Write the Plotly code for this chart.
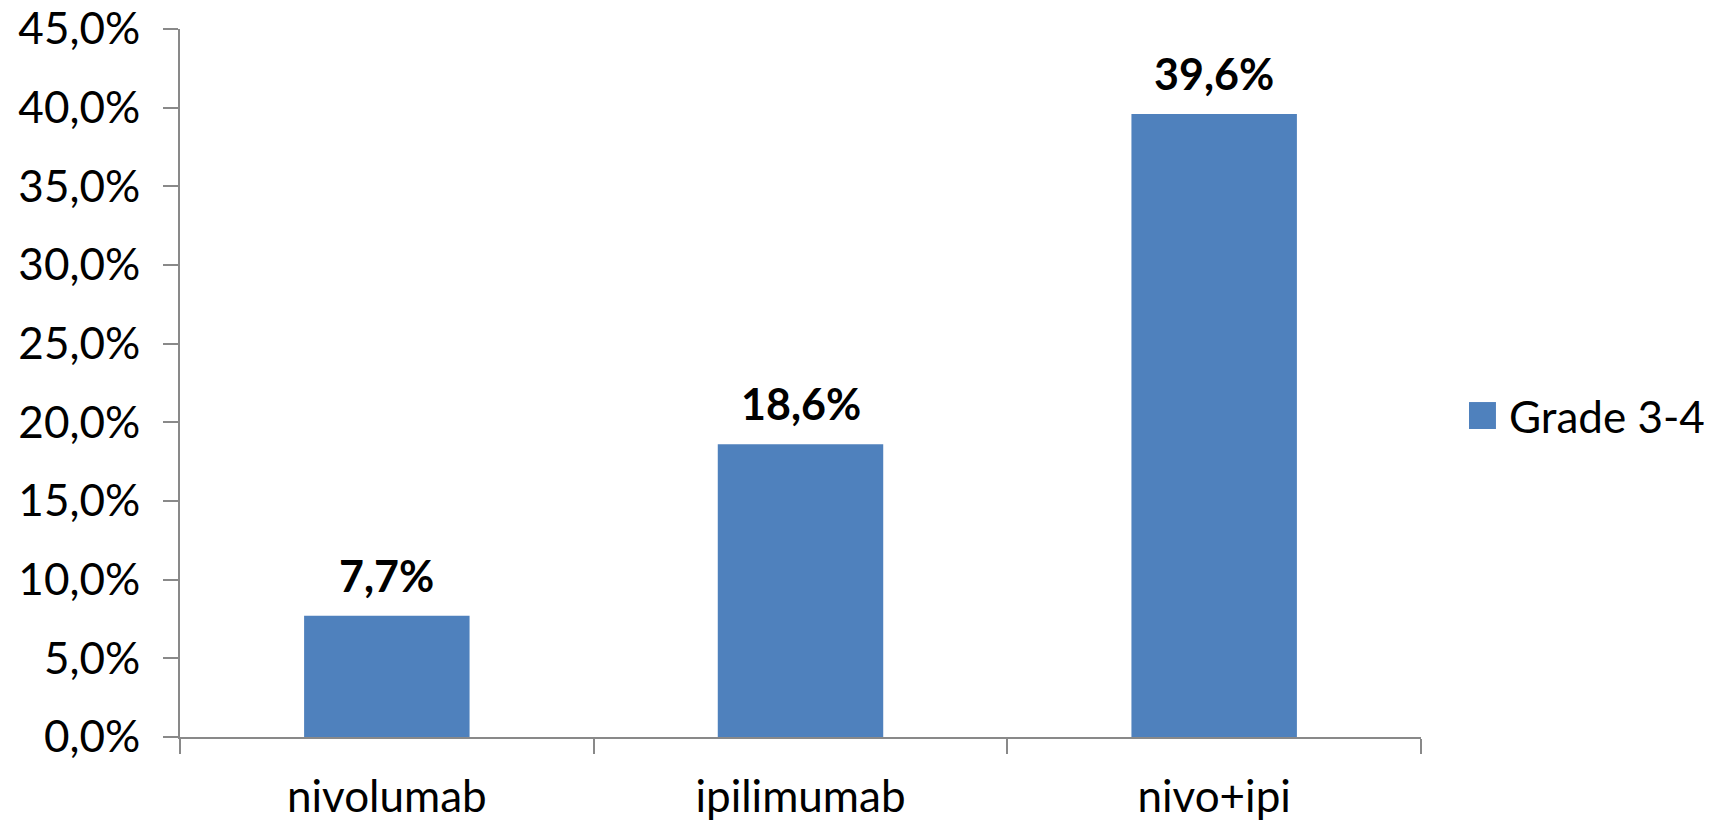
import plotly.graph_objects as go

# Grade 3-4 adverse event rates by treatment arm
categories = ["nivolumab", "ipilimumab", "nivo+ipi"]
grade34_rate = [0.077, 0.186, 0.396]
series_name = "Grade 3-4"

BAR_COLOR = "#4F81BD"
AXIS_COLOR = "#898989"
FONT = "Lato, Carlito, Calibri, sans-serif"

fig = go.Figure()
fig.add_trace(go.Bar(
    x=categories,
    y=grade34_rate,
    name=series_name,
    marker=dict(color=BAR_COLOR, line=dict(width=0)),
    width=0.4,
    showlegend=False,
))

# Bold value labels above each bar
for cat, val in zip(categories, grade34_rate):
    fig.add_annotation(
        x=cat, y=val, xref="x", yref="y",
        text="<b>" + f"{val * 100:.1f}".replace(".", ",") + "%</b>",
        showarrow=False, yanchor="bottom", yshift=13,
        font=dict(family=FONT, size=43, color="#000000"),
    )

# Legend drawn as a swatch plus label to the right of the plot
fig.add_shape(type="rect", xref="paper", yref="paper",
              x0=1.0387, x1=1.0604, y0=0.435, y1=0.4731,
              fillcolor=BAR_COLOR, line=dict(width=0))
fig.add_annotation(xref="paper", yref="paper", x=1.069, y=0.454,
                   xanchor="left", yanchor="middle", showarrow=False,
                   text=series_name,
                   font=dict(family=FONT, size=44, color="#000000"))

fig.update_layout(
    width=1711, height=820,
    margin=dict(l=180, r=290, t=29, b=83, pad=0),
    plot_bgcolor="white", paper_bgcolor="white",
    separators=", ",
    font=dict(family=FONT, size=44, color="#000000"),
    bargap=0.6,
)
fig.update_yaxes(
    range=[0, 0.45], dtick=0.05, tickformat=".1%",
    showgrid=False, zeroline=False, automargin=False,
    showline=True, linecolor=AXIS_COLOR, linewidth=2,
    ticks="outside", ticklen=15, tickwidth=2, tickcolor=AXIS_COLOR,
    ticklabelstandoff=14,
    tickfont=dict(family=FONT, size=44, color="#000000"),
)
fig.update_xaxes(
    showgrid=False, zeroline=False, automargin=False,
    showline=True, linecolor=AXIS_COLOR, linewidth=2,
    ticks="outside", ticklen=15, tickwidth=2, tickcolor=AXIS_COLOR,
    tickson="boundaries",
    ticklabelstandoff=20,
    tickfont=dict(family=FONT, size=44, color="#000000"),
)

fig.write_html("out.html")
